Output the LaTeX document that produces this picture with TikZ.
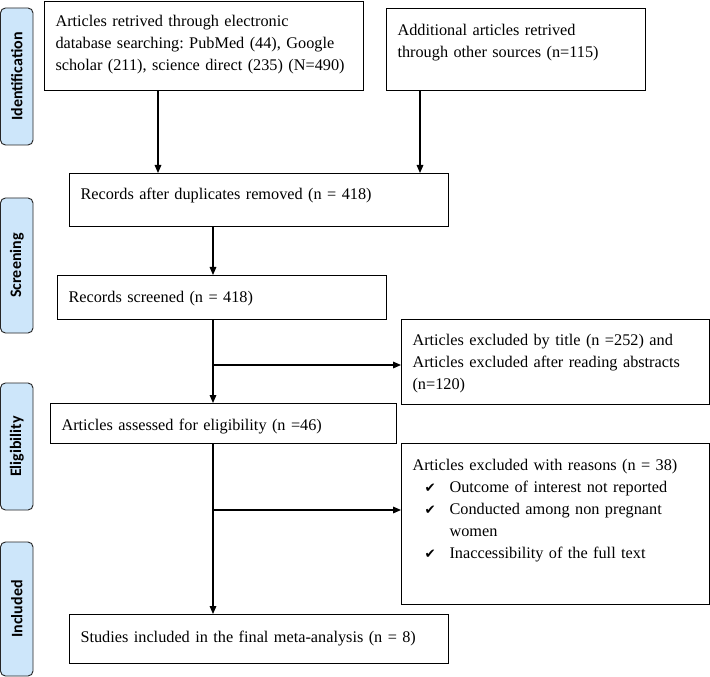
\documentclass[tikz,border=0pt]{standalone}
\usepackage{fontspec}
\setmainfont{Liberation Serif}
\newfontfamily\stagefont{Carlito}
\newfontfamily\tickfont{DejaVu Sans}
\usetikzlibrary{arrows.meta,positioning}
\definecolor{stageblue}{RGB}{205,230,250}
\tikzset{%
  recbox/.style={draw, line width=0.8pt, anchor=north west, align=left, inner xsep=8.25pt, inner ysep=0pt, font=\frenchspacing\fontsize{12.2pt}{16.5pt}\selectfont},
  stage/.style={draw=black!85, line width=0.7pt, fill=stageblue, rounded corners=3.75pt, rotate=90, minimum height=24.4pt, inner sep=0pt, font=\stagefont\bfseries\fontsize{12pt}{14pt}\selectfont},
  line/.style={draw, line width=0.8pt, -{Triangle[length=6pt,width=5pt]}},
}
\newcommand{\tickitem}{\makebox[27.75pt][l]{\hspace*{9pt}{\tickfont\fontsize{10pt}{16.5pt}\selectfont ✔}}}

\begin{document}
\begin{tikzpicture}[x=0.75pt, y=-0.75pt]
  \path [fill=white, use as bounding box] (0,0) rectangle (710,677);

  % phase labels
  \node (idlab) [stage, minimum width=102.75pt] at (16.75,76.5) {Identification};
  \node (scrlab) [stage, minimum width=101.25pt] at (16.75,265.5) {Screening};
  \node (eliglab) [stage, minimum width=95.25pt] at (16.75,446.5) {Eligibility};
  \node (inclab) [stage, minimum width=100.5pt] at (16.75,609) {Included};

  % records
  \node (art) [recbox, text width=222.75pt, text height=18.75pt, text depth=48pt] at (44,1)
    {Articles retrived through electronic\\ database searching: PubMed (44), Google\\ scholar (211), science direct (235) (N=490)};
  \node (add) [recbox, text width=177.75pt, text height=20.25pt, text depth=41.25pt] at (386,8)
    {Additional articles retrived\\ through other sources (n=115)};
  \node (dup) [recbox, text width=267.75pt, text height=19.5pt, text depth=20.25pt] at (69,173)
    {Records after duplicates removed (n = 418)};
  \node (scr) [recbox, text width=230.25pt, text height=20.25pt, text depth=12.75pt] at (57,275)
    {Records screened (n = 418)};
  \node (exa) [recbox, text width=214.5pt, text height=19.5pt, text depth=44.25pt] at (401,319)
    {Articles excluded by title (n =252) and\\ Articles excluded after reading abstracts\\ (n=120)};
  \node (elig) [recbox, text width=243pt, text height=20.25pt, text depth=9.75pt] at (50,403)
    {Articles assessed for eligibility (n =46)};
  \node (exb) [recbox, text width=214.5pt, text height=20.25pt, text depth=100.5pt] at (401,443)
    {Articles excluded with reasons (n = 38)\\
     \tickitem Outcome of interest not reported\\
     \tickitem Conducted among non pregnant\\
     \hspace*{27.75pt}women\\
     \tickitem Inaccessibility of the full text};
  \node (inc) [recbox, text width=267.75pt, text height=21pt, text depth=15.75pt] at (69,614)
    {Studies included in the final meta-analysis (n = 8)};

  % connectors
  \coordinate (leftdrop) at (158,0);
  \coordinate (rightdrop) at (420,0);
  \coordinate (trunk) at (213,0);
  \coordinate (fork1) at (213,365);
  \coordinate (fork2) at (213,510);

  \path [line] (leftdrop |- art.south) -- (leftdrop |- dup.north);
  \path [line] (rightdrop |- add.south) -- (rightdrop |- dup.north);
  \path [line] (trunk |- dup.south) -- (trunk |- scr.north);
  \path [line] (trunk |- scr.south) -- (trunk |- elig.north);
  \path [line] (fork1) -- (fork1 -| exa.west);
  \path [line] (trunk |- elig.south) -- (trunk |- inc.north);
  \path [line] (fork2) -- (fork2 -| exb.west);
\end{tikzpicture}
\end{document}
